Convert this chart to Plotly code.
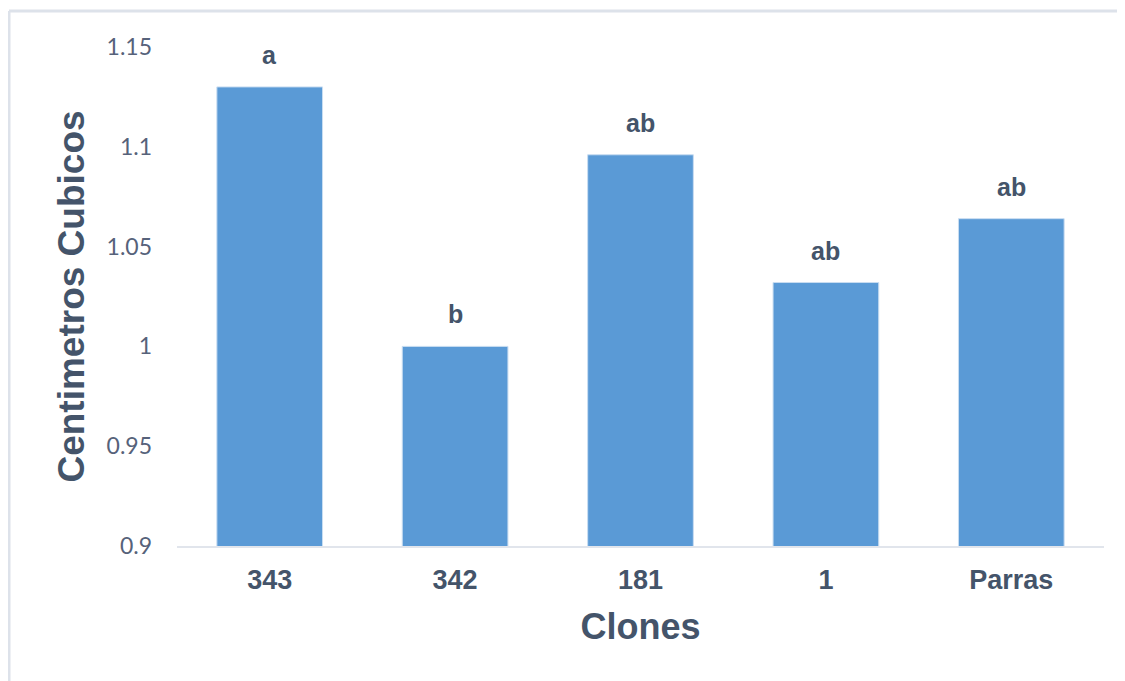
import plotly.graph_objects as go

clones = ["343", "342", "181", "1", "Parras"]
volumen = [1.130, 1.000, 1.096, 1.032, 1.064]
letras = ["a", "b", "ab", "ab", "ab"]
y_ticks = [0.9, 0.95, 1.0, 1.05, 1.1, 1.15]
y_tick_text = ["0.9", "0.95", "1", "1.05", "1.1", "1.15"]

# page body has an 8px margin, so the figure is sized/placed to compensate
W, H = 1117, 673
ML, MR, MT, MB = 169, 21, 39, 135
pw = W - ML - MR
ph = H - MT - MB

dark = "#44546A"

fig = go.Figure()
fig.add_trace(go.Bar(
    x=clones, y=volumen,
    marker=dict(color="#5A9AD6", line=dict(color="#C9DDF1", width=1)),
    width=0.57,
    hoverinfo="x+y",
))

# annotations on a category axis: use the category index
for i, (v, t) in enumerate(zip(volumen, letras)):
    fig.add_annotation(x=i, y=v, text="<b>%s</b>" % t, showarrow=False,
                       yanchor="bottom", yshift=16,
                       font=dict(family="Liberation Sans, Arial", size=25, color=dark))

# outer frame (top and left edges visible in the picture)
fx = (1 - ML) / pw
fy = (H - MB - 3) / ph
frame = "#DDE2EA"
fig.add_shape(type="line", xref="paper", yref="paper", x0=fx, x1=1.2, y0=fy, y1=fy,
              line=dict(color=frame, width=3))
fig.add_shape(type="line", xref="paper", yref="paper", x0=fx, x1=fx, y0=fy, y1=-0.5,
              line=dict(color=frame, width=3))

fig.update_layout(
    width=W, height=H,
    margin=dict(l=ML, r=MR, t=MT, b=MB, autoexpand=False),
    paper_bgcolor="white", plot_bgcolor="white",
    showlegend=False,
    bargap=0.43,
    xaxis=dict(
        type="category", range=[-0.5, len(clones) - 0.5],
        showgrid=False, showline=True, linecolor="#E1E5EC", linewidth=2,
        ticks="", ticklabelstandoff=9,
        tickfont=dict(family="Liberation Sans, Arial", size=27, color=dark, weight="bold"),
        title=dict(text="<b>Clones</b>", standoff=19,
                   font=dict(family="Liberation Sans, Arial", size=36, color=dark)),
        automargin=False,
    ),
    yaxis=dict(
        range=[0.9, 1.15], showgrid=False, zeroline=False, showline=False,
        tickvals=y_ticks, ticktext=y_tick_text, ticks="", ticklabelstandoff=24,
        tickfont=dict(family="Lato, Open Sans", size=23, color="#56627A"),
        title=dict(text="<b>Centimetros Cubicos</b>", standoff=10,
                   font=dict(family="Liberation Sans, Arial", size=37, color=dark)),
        automargin=False,
    ),
)

fig.write_html("out.html")
